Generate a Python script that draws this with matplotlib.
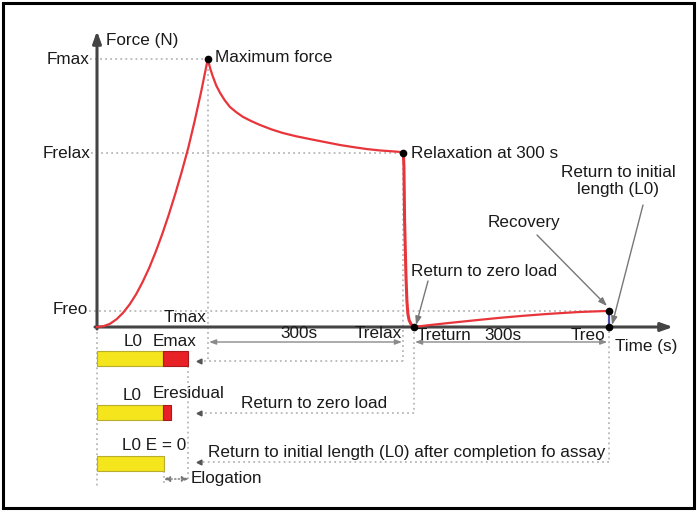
import numpy as np
import matplotlib.pyplot as plt
from matplotlib.patches import Rectangle

plt.rcParams['font.family'] = ['Liberation Sans', 'DejaVu Sans']

# key instants (s) and force levels (N) of the creep/relaxation assay sketch
t_max, t_relax, t_return, t_reo = 170, 470, 486, 785
f_max, f_relax, f_reo = 100, 65, 6

# force curve
load_t = [0, 10, 20, 30, 40, 50, 60, 70, 80, 90, 100, 110, 120, 130, 140, 150, 160, 170]
load_f = [0, 0.3, 1.2, 2.9, 5.3, 8.4, 12.2, 16.8, 22, 28, 34.6, 41.8, 49.6, 57.9, 66.8,
          77, 88, 100]
relax_t = [170, 174, 178, 183, 189, 196, 204, 214, 224, 237, 250, 267, 285, 305, 327,
           350, 373, 394, 414, 433, 450, 462, 470]
relax_f = [100, 96.2, 93.3, 90.1, 87.3, 84.6, 82.1, 80.1, 78.4, 76.8, 75.4, 73.8, 72.4,
           71.2, 70.1, 69, 67.9, 67.1, 66.4, 65.9, 65.6, 65.4, 65]
drop_t = [470, 471, 471.5, 472, 473, 474, 475.5, 477, 479, 482, 486]
drop_f = [65, 60, 50, 40, 30, 20, 10, 5, 2.5, 1, 0]
rec_t = [486, 510, 540, 580, 617, 655, 693, 740, 785]
rec_f = [0, 0.7, 1.5, 2.5, 3.4, 4.2, 4.9, 5.6, 6]

# specimen bars: initial length L0 and elongation E
bar_l0 = [101, 101, 103]
bar_e = [39, 12, 0]
bar_tags = ['Emax', 'Eresidual', 'E = 0']

# sketch layout is set out in pixels of the 697x515 picture
SX = 300 / 195.5
SY = 100 / 268


def X(px):
    return (px - 97) * SX


def Y(py):
    return (327 - py) * SY


fig = plt.figure(figsize=(6.97, 5.15), dpi=100)
ax = fig.add_axes([0, 0, 1, 1])
ax.set_xlim(X(0), X(697))
ax.set_ylim(Y(515), Y(0))
ax.axis('off')

ax.add_patch(Rectangle((X(3), Y(508)), X(694) - X(3), Y(3) - Y(508),
                       fill=False, ec='black', lw=2.2, zorder=10))

FS = 12.3
GUIDE = dict(color='#b8b8b8', lw=1.3, ls=(0, (1, 1.8)), zorder=1)
ARR = '#8a8a8a'

# dotted guide lines
ax.plot([X(90), t_max], [f_max, f_max], **GUIDE)
ax.plot([X(91), t_relax], [f_relax, f_relax], **GUIDE)
ax.plot([X(89), t_reo], [f_reo, f_reo], **GUIDE)
ax.plot([t_max, t_max], [f_max, Y(361)], **GUIDE)
ax.plot([t_relax, t_relax], [f_relax, Y(361)], **GUIDE)
ax.plot([t_return, t_return], [0, Y(413)], **GUIDE)
ax.plot([t_reo, t_reo], [f_reo, Y(462)], **GUIDE)
ax.plot([0, 0], [0, Y(487)], **GUIDE)
ax.plot([X(188), X(188)], [Y(366), Y(480)], **GUIDE)
ax.plot([X(164), X(164)], [Y(471), Y(485)], **GUIDE)

# dotted returns pointing back to the bars
for x0, py in [(t_relax, 361), (t_return, 413), (t_reo, 462)]:
    ax.plot([x0, X(199)], [Y(py), Y(py)], **GUIDE)
    ax.plot([X(199)], [Y(py)], marker='<', ms=3.5, color='#555555', zorder=2)

# axes with arrows
ax.annotate('', xy=(X(673), 0), xytext=(X(95), 0),
            arrowprops=dict(arrowstyle='-|>,head_length=0.7,head_width=0.25',
                            color='#444444', lw=2.2, shrinkA=0, shrinkB=0), zorder=3)
ax.annotate('', xy=(0, Y(31)), xytext=(0, Y(329)),
            arrowprops=dict(arrowstyle='-|>,head_length=0.7,head_width=0.25',
                            color='#444444', lw=2.2, shrinkA=0, shrinkB=0), zorder=3)

# force curve
red = '#e8353b'
ax.plot(load_t, load_f, color=red, lw=1.6, zorder=4)
ax.plot(relax_t, relax_f, color=red, lw=1.6, zorder=4)
ax.plot(drop_t, drop_f, color=red, lw=2.2, zorder=4)
ax.plot(rec_t, rec_f, color=red, lw=1.6, zorder=4)
ax.plot([t_reo, t_reo], [f_reo, 0], color='#4a4aa8', lw=1.6, zorder=4)
ax.plot([t_max, t_relax, t_return, t_reo, t_reo], [f_max, f_relax, 0, f_reo, 0],
        'o', color='black', ms=4.5, zorder=6)

# time span double arrows
for a, b in [(t_max, t_relax), (t_return, t_reo)]:
    ax.annotate('', xy=(a + 2, Y(342)), xytext=(b - 2, Y(342)),
                arrowprops=dict(arrowstyle='<|-|>,head_length=0.4,head_width=0.15',
                                color=ARR, lw=1, shrinkA=0, shrinkB=0))

# callout arrows
for (p0, p1) in [((428, 281), (416, 325)), ((537, 235), (607, 306)),
                 ((643, 205), (612, 325))]:
    ax.annotate('', xy=(X(p1[0]), Y(p1[1])), xytext=(X(p0[0]), Y(p0[1])),
                arrowprops=dict(arrowstyle='-|>,head_length=0.5,head_width=0.18',
                                color='#777777', lw=1, shrinkA=0, shrinkB=0))

# specimen bars
bar_rows = [(351, 366), (405, 420), (456, 471)]
for (top, bot), l0, e in zip(bar_rows, bar_l0, bar_e):
    ax.add_patch(Rectangle((0, Y(bot)), l0, Y(top) - Y(bot), fc='#f4e51c',
                           ec='#b8ad30', lw=0.8, zorder=5))
    if e > 0:
        ax.add_patch(Rectangle((l0, Y(bot)), e, Y(top) - Y(bot), fc='#e82127',
                               ec='#a81a1e', lw=0.8, zorder=5))

# elongation arrow
ax.annotate('', xy=(X(163), Y(479)), xytext=(X(189), Y(479)),
            arrowprops=dict(arrowstyle='<|-|>,head_length=0.4,head_width=0.15',
                            color='#777777', lw=1, ls=':', shrinkA=0, shrinkB=0))


def txt(px, py, s, ha='left', **kw):
    ax.text(X(px), Y(py), s, ha=ha, va='center', fontsize=FS, color='#1a1a1a', **kw)


txt(106, 41, 'Force (N)')
txt(89, 59, 'Fmax', ha='right')
txt(91, 153, 'Frelax', ha='right')
txt(88, 310, 'Freo', ha='right')
txt(215, 57, 'Maximum force')
txt(411, 153, 'Relaxation at 300 s')
ax.text(X(618), Y(181), 'Return to initial\nlength (L0)', ha='center', va='center',
        fontsize=FS, color='#1a1a1a', linespacing=1.15)
txt(488, 223, 'Recovery')
txt(411, 271, 'Return to zero load')
txt(206, 318, 'Tmax', ha='right')
txt(280, 334, '300s')
txt(402, 334, 'Trelax', ha='right')
txt(417, 335, 'Treturn')
txt(484, 335, '300s')
txt(605, 335, 'Treo', ha='right')
txt(615, 346, 'Time (s)')
txt(124, 342, 'L0')
txt(153, 341, bar_tags[0])
txt(123, 395, 'L0')
txt(153, 393, bar_tags[1])
txt(241, 403, 'Return to zero load')
txt(122, 445, 'L0 ' + bar_tags[2])
txt(208, 452, 'Return to initial length (L0) after completion fo assay')
txt(191, 479, 'Elogation')

fig.savefig('out.png', dpi=100)
